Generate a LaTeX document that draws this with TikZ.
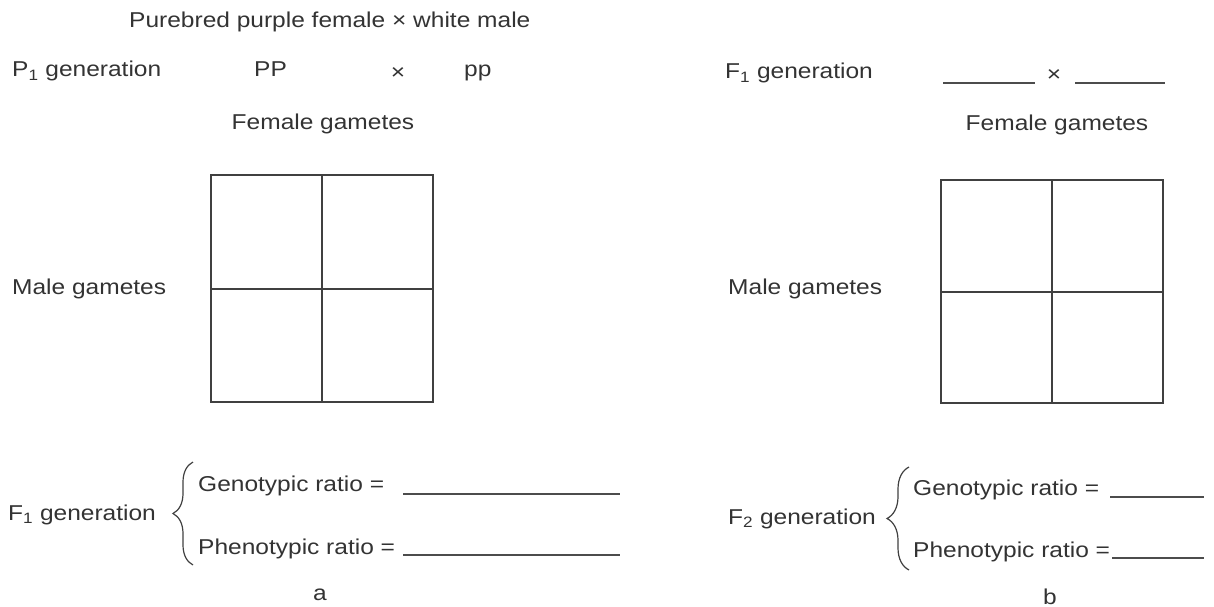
\documentclass[tikz,border=0pt]{standalone}
\usepackage{fontspec}
\setmainfont{Liberation Sans}[FakeStretch=1.14]
\usetikzlibrary{decorations.pathreplacing}
\begin{document}
\begin{tikzpicture}[x=1pt,y=-1pt,
  lbl/.style={anchor=base west, inner sep=0pt, text=black!80, font=\fontsize{21.5}{25}\selectfont},
  clbl/.style={lbl, anchor=base},
  gridline/.style={draw=black!75, line width=1.8pt},
  blank/.style={draw=black!70, line width=1.4pt},
  bracestyle/.style={draw=black!75, line width=1.2pt, decorate, decoration={brace, amplitude=#1pt, aspect=0.5}}
]
\useasboundingbox (0,0) rectangle (1214,607);

% ---------- panel a ----------
\node[lbl] (title) at (129,28) {Purebred purple female × white male};
\node[lbl] (pgen) at (12,77) {P\textsubscript{1} generation};
\node[lbl] (PP) at (254,77) {PP};
\node[clbl] (xa) at (398,80) {×};
\node[lbl] (pp) at (464,77) {pp};
\node[clbl] (fga) at (323,129) {Female gametes};
\node[lbl] (mga) at (12,294) {Male gametes};

\draw[gridline] (211,175) rectangle (433,402);
\draw[gridline] (322,175) -- (322,402);
\draw[gridline] (211,289) -- (433,289);

\node[lbl] (f1a) at (8,520) {F\textsubscript{1} generation};
\draw[bracestyle=20] (193,565) -- (193,462);
\node[lbl] (gena) at (198,491) {Genotypic ratio =};
\node[lbl] (phea) at (198,554) {Phenotypic ratio =};
\coordinate (ga1) at (403,494); \coordinate (ga2) at (620,494);
\coordinate (pa1) at (403,555); \coordinate (pa2) at (620,555);
\draw[blank] (ga1) -- (ga2);
\draw[blank] (pa1) -- (pa2);
\node[clbl] (la) at (320,600) {a};

% ---------- panel b ----------
\node[lbl] (f1b) at (725,79) {F\textsubscript{1} generation};
\coordinate (b1s) at (943,83); \coordinate (b1e) at (1035,83);
\coordinate (b2s) at (1075,83); \coordinate (b2e) at (1165,83);
\draw[blank] (b1s) -- (b1e);
\draw[blank] (b2s) -- (b2e);
\node[clbl] (xb) at (1054,82) {×};
\node[clbl] (fgb) at (1057,131) {Female gametes};
\node[lbl] (mgb) at (728,294) {Male gametes};

\draw[gridline] (941,180) rectangle (1163,403);
\draw[gridline] (1052,180) -- (1052,403);
\draw[gridline] (941,292) -- (1163,292);

\node[lbl] (f2b) at (728,524) {F\textsubscript{2} generation};
\draw[bracestyle=22] (909,570) -- (909,467);
\node[lbl] (genb) at (913,495) {Genotypic ratio =};
\node[lbl] (pheb) at (913,557) {Phenotypic ratio =};
\coordinate (gb1) at (1110,497); \coordinate (gb2) at (1204,497);
\coordinate (pb1) at (1112,558); \coordinate (pb2) at (1204,558);
\draw[blank] (gb1) -- (gb2);
\draw[blank] (pb1) -- (pb2);
\node[clbl] (lb) at (1050,604) {b};
\end{tikzpicture}
\end{document}
